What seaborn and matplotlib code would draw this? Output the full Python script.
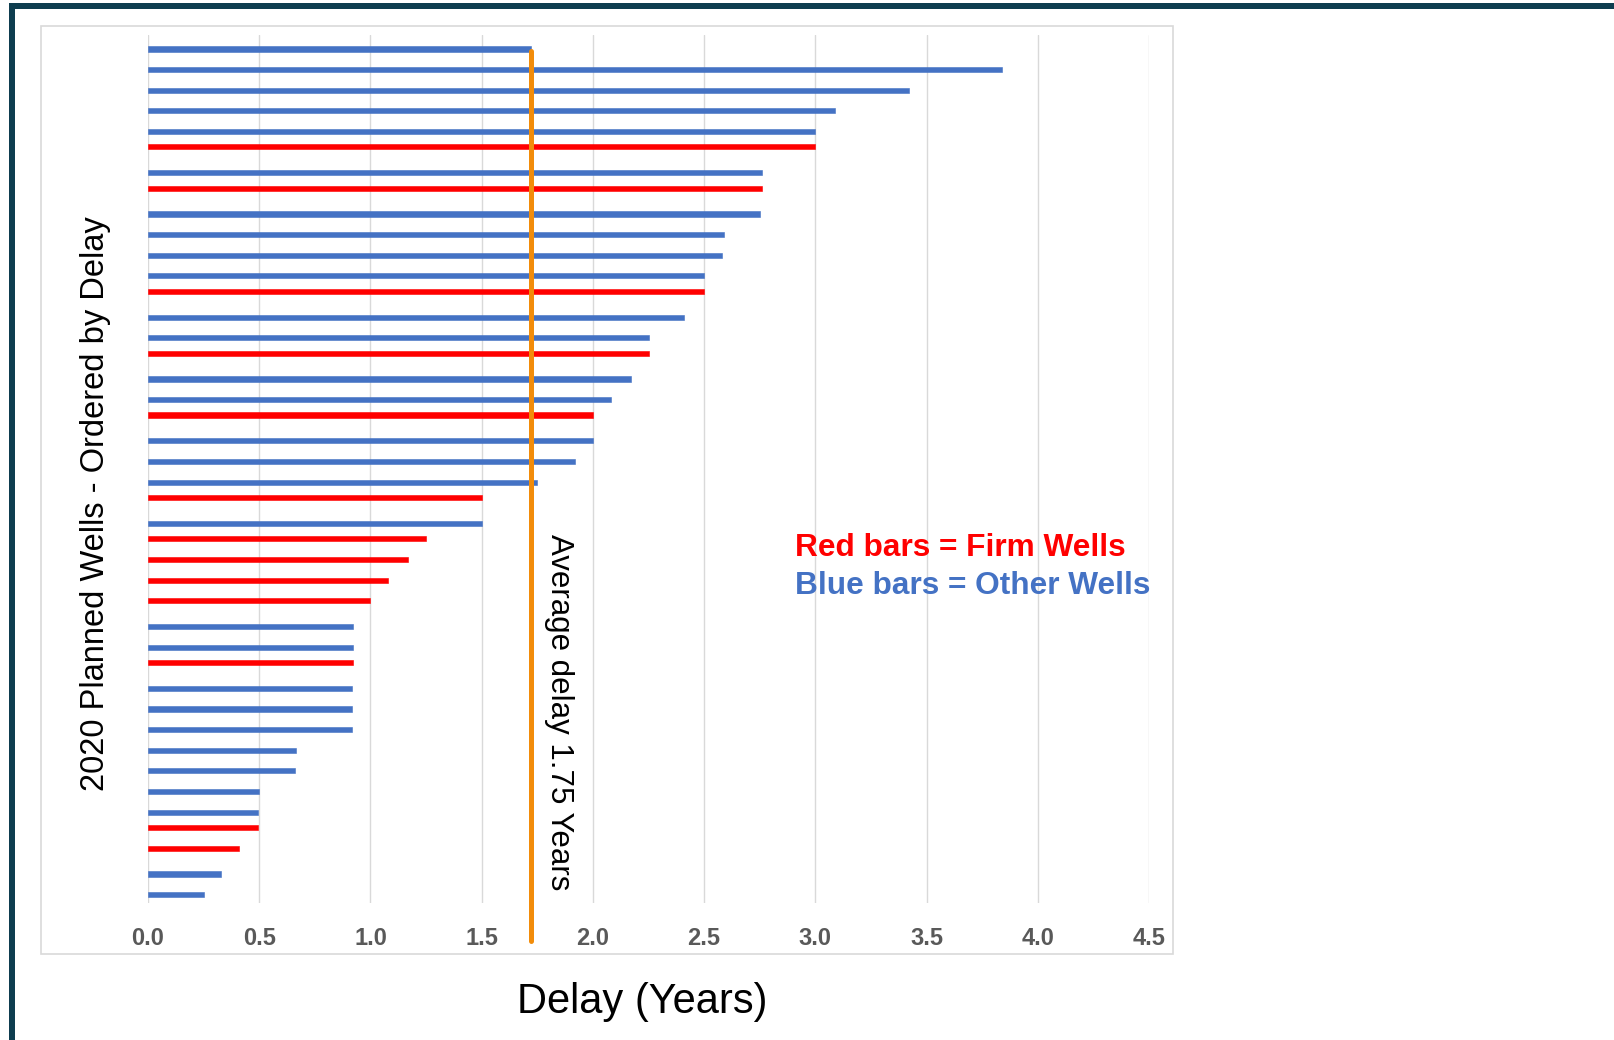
import matplotlib
matplotlib.use("Agg")
import matplotlib.pyplot as plt
from matplotlib.patches import Rectangle
from matplotlib.lines import Line2D
import seaborn as sns
import pandas as pd

# Delay per planned well (years), ordered as listed on the chart
delays = [1.72, 3.84, 3.42, 3.09, 3.00, 3.00, 2.76, 2.76, 2.75, 2.59,
          2.58, 2.50, 2.50, 2.41, 2.25, 2.25, 2.17, 2.08, 2.00, 2.00,
          1.92, 1.75, 1.50, 1.50, 1.25, 1.17, 1.08, 1.00, 0.92, 0.92,
          0.92, 0.915, 0.915, 0.915, 0.665, 0.66, 0.50, 0.495, 0.495, 0.41,
          0.33, 0.25]
# "Firm" wells are drawn red, "Other" wells blue
well_type = ["Other", "Other", "Other", "Other", "Other", "Firm", "Other", "Firm", "Other", "Other",
             "Other", "Other", "Firm", "Other", "Other", "Firm", "Other", "Other", "Firm", "Other",
             "Other", "Other", "Firm", "Other", "Firm", "Firm", "Firm", "Firm", "Other", "Other",
             "Firm", "Other", "Other", "Other", "Other", "Other", "Other", "Other", "Firm", "Firm",
             "Other", "Other"]
wells = [f"W{i + 1:02d}" for i in range(len(delays))]
x_ticks = [0.0, 0.5, 1.0, 1.5, 2.0, 2.5, 3.0, 3.5, 4.0, 4.5]
avg_delay = 1.72

df = pd.DataFrame({"well": wells, "delay": delays, "type": well_type})

W, H = 1614, 1040
sns.set_theme(style="white")
plt.rcParams["font.family"] = ["Liberation Sans", "DejaVu Sans"]

fig = plt.figure(figsize=(W / 100, H / 100), dpi=100)
fig.patch.set_facecolor("white")


def fx(px):
    return px / W


def fy(py):
    return 1 - py / H


ax = fig.add_axes([fx(148), fy(903), fx(1149) - fx(148), fy(35) - fy(903)])

sns.barplot(data=df, y="well", x="delay", hue="type", hue_order=["Firm", "Other"],
            palette={"Firm": "#FF0000", "Other": "#4472C4"}, saturation=1, orient="h",
            dodge=True, width=0.5, errorbar=None, legend=False, ax=ax, zorder=3,
            linewidth=0)
# give each bar a thin outline in its own colour
for bar in ax.patches:
    bar.set_edgecolor(bar.get_facecolor())
    bar.set_linewidth(0.4)

ax.set_xlim(0, 4.5)
ax.set_ylim(41.53, -0.55)
ax.set_xticks(x_ticks)
ax.set_xticklabels([f"{t:.1f}" for t in x_ticks], fontsize=17, fontweight="bold",
                   color="#595959")
ax.tick_params(axis="x", length=0, pad=17.5)
ax.set_yticks([])
ax.set_xlabel("")
ax.set_ylabel("")
for s in ax.spines.values():
    s.set_visible(False)
ax.grid(axis="x", color="#D9D9D9", linewidth=1.0, zorder=0)
ax.set_axisbelow(True)

# average delay marker line
ax.add_line(Line2D([avg_delay, avg_delay], [0.9816, -0.0438], transform=ax.get_xaxis_transform(),
                   color="#F28C0A", linewidth=3.6, clip_on=False, zorder=5))

# chart area border
fig.patches.append(Rectangle((fx(41), fy(954)), fx(1173) - fx(41), fy(26) - fy(954),
                             transform=fig.transFigure, fill=False, edgecolor="#D9D9D9",
                             linewidth=1.2, zorder=0))
# frame bands along top and left
fig.patches.append(Rectangle((fx(8.5), fy(8.5)), 1 - fx(8.5), fy(3) - fy(8.5),
                             transform=fig.transFigure, facecolor="#0E3D4F", edgecolor="none"))
fig.patches.append(Rectangle((fx(8.5), 0), fx(15) - fx(8.5), fy(3),
                             transform=fig.transFigure, facecolor="#0E3D4F", edgecolor="none"))

fig.text(fx(96), fy(504), "2020 Planned Wells - Ordered by Delay", rotation=90,
         ha="center", va="center", fontsize=23.5, color="black")
fig.text(fx(642), fy(1002), "Delay (Years)", ha="center", va="center", fontsize=30,
         color="black")
fig.text(fx(559), fy(712), "Average delay 1.75 Years", rotation=270, ha="center",
         va="center", fontsize=22.5, color="black")
fig.text(fx(795), fy(548.5), "Red bars = Firm Wells", ha="left", va="center",
         fontsize=22.8, fontweight="bold", color="#FF0000")
fig.text(fx(795), fy(585.5), "Blue bars = Other Wells", ha="left", va="center",
         fontsize=22.8, fontweight="bold", color="#4472C4")

fig.savefig("out.png", dpi=100, facecolor="white")
